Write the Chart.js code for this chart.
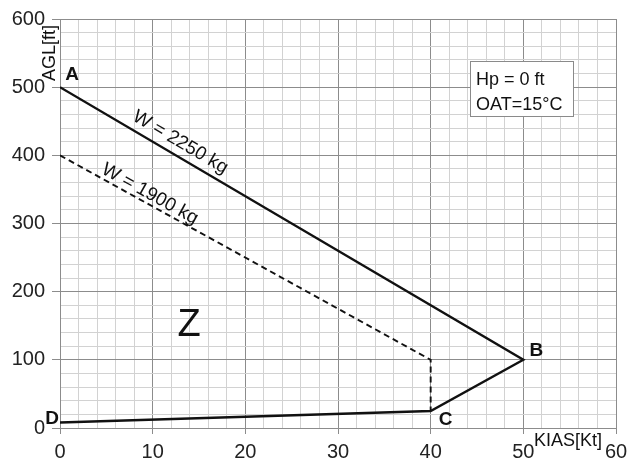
<!DOCTYPE html>
<html>
<head>
<meta charset="utf-8">
<script src="https://cdn.jsdelivr.net/npm/chart.js@4.4.0/dist/chart.umd.min.js"></script>
<style>
  html, body { margin: 0; padding: 0; background: #fff; }
  #wrap { width: 629px; height: 467px; }
</style>
</head>
<body>
<div id="wrap"><canvas id="chart"></canvas></div>
<script>
// ====================== DATA ======================
const heavyX = [0, 50, 40, 0];        // A -> B -> C -> D
const heavyY = [500, 100, 25, 8];
const lightX = [0, 40, 40];           // dashed W = 1900 kg
const lightY = [400, 100, 25];
const pointNames = ["A", "B", "C", "D"];
const heavyLabel = "W = 2250 kg";
const lightLabel = "W = 1900 kg";
const infoLines = ["Hp = 0 ft", "OAT=15°C"];
const xTitle = "KIAS[Kt]";
const yTitle = "AGL[ft]";

const FONT = "'Liberation Sans', Arial, sans-serif";
const MAJOR = "#8c8c8c";
const MINOR = "#d2d2d2";

const toPoints = (xs, ys) => xs.map((x, i) => ({ x, y: ys[i] }));

// ====================== ANNOTATIONS ======================
const annotations = {
    id: "annotations",
    afterDraw(chart) {
        const ctx = chart.ctx;
        const xs = chart.scales.x, ys = chart.scales.y;
        const px = (x, y) => [xs.getPixelForValue(x), ys.getPixelForValue(y)];
        ctx.save();
        ctx.fillStyle = "#111";

        // corner letters
        ctx.font = "bold 19px " + FONT;
        ctx.textAlign = "center";
        ctx.textBaseline = "middle";
        const offs = [[12, -12], [13, -9], [15, 9], [-8, -4]];
        pointNames.forEach((n, i) => {
            const [x, y] = px(heavyX[i], heavyY[i]);
            ctx.fillText(n, x + offs[i][0], y + offs[i][1]);
        });

        // weight labels along the lines
        ctx.font = "19px " + FONT;
        const alongLine = (x0, y0, x1, y1, t, lift, text) => {
            const [ax, ay] = px(x0, y0), [bx, by] = px(x1, y1);
            const ang = Math.atan2(by - ay, bx - ax);
            ctx.save();
            ctx.translate(ax + (bx - ax) * t, ay + (by - ay) * t);
            ctx.rotate(ang);
            ctx.textAlign = "center";
            ctx.textBaseline = "bottom";
            ctx.fillText(text, 0, -lift);
            ctx.restore();
        };
        alongLine(heavyX[0], heavyY[0], heavyX[1], heavyY[1], 0.245, 4, heavyLabel);
        alongLine(lightX[0], lightY[0], lightX[1], lightY[1], 0.23, 0, lightLabel);

        // Z region
        ctx.font = "38px " + FONT;
        ctx.textAlign = "center";
        ctx.textBaseline = "middle";
        ctx.fillText("Z", 189, 326);

        // info box
        ctx.fillStyle = "#fff";
        ctx.fillRect(470, 61, 103, 55);
        ctx.strokeStyle = "#8a8a8a";
        ctx.lineWidth = 1;
        ctx.strokeRect(470.5, 61.5, 103, 55);
        ctx.fillStyle = "#111";
        ctx.font = "18px " + FONT;
        ctx.textAlign = "left";
        ctx.textBaseline = "alphabetic";
        ctx.fillText(infoLines[0], 476, 85);
        ctx.fillText(infoLines[1], 476, 110);

        // axis titles
        ctx.font = "18px " + FONT;
        ctx.textAlign = "center";
        ctx.textBaseline = "middle";
        ctx.fillText(xTitle, 568, 441);
        ctx.save();
        ctx.translate(50, 53);
        ctx.rotate(-Math.PI / 2);
        ctx.fillText(yTitle, 0, 0);
        ctx.restore();

        ctx.restore();
    }
};

// ====================== CHART ======================
new Chart(document.getElementById("chart"), {
    type: "scatter",
    data: {
        datasets: [
            {
                data: toPoints(heavyX, heavyY),
                showLine: true,
                borderColor: "#111",
                borderWidth: 2.4,
                pointRadius: 0,
                tension: 0
            },
            {
                data: toPoints(lightX, lightY),
                showLine: true,
                borderColor: "#111",
                borderWidth: 1.9,
                borderDash: [6, 4],
                pointRadius: 0,
                tension: 0
            }
        ]
    },
    options: {
        responsive: true,
        maintainAspectRatio: false,
        animation: false,
        layout: { padding: { left: 0, right: 0, top: 19, bottom: 0 } },
        plugins: { legend: { display: false }, tooltip: { enabled: false } },
        scales: {
            x: {
                min: 0, max: 60,
                afterFit: s => { s.height = 39; s.paddingRight = 13; },
                border: { color: MAJOR },
                grid: {
                    color: c => (c.tick && c.tick.value % 10 === 0 ? MAJOR : MINOR),
                    tickColor: c => (c.tick && c.tick.value % 10 === 0 ? MAJOR : "rgba(0,0,0,0)"),
                    tickLength: 6
                },
                ticks: {
                    stepSize: 2,
                    autoSkip: false,
                    maxRotation: 0,
                    padding: 6,
                    color: "#222",
                    font: { family: FONT, size: 20 },
                    callback: v => (v % 10 === 0 ? v : "")
                }
            },
            y: {
                min: 0, max: 600,
                afterFit: s => { s.width = 60; },
                border: { color: MAJOR },
                grid: {
                    color: c => (c.tick && c.tick.value % 100 === 0 ? MAJOR : MINOR),
                    tickColor: c => (c.tick && c.tick.value % 100 === 0 ? MAJOR : "rgba(0,0,0,0)"),
                    tickLength: 8
                },
                ticks: {
                    stepSize: 20,
                    autoSkip: false,
                    padding: 7,
                    color: "#222",
                    font: { family: FONT, size: 20 },
                    callback: v => (v % 100 === 0 ? v : "")
                }
            }
        }
    },
    plugins: [annotations]
});
</script>
</body>
</html>
